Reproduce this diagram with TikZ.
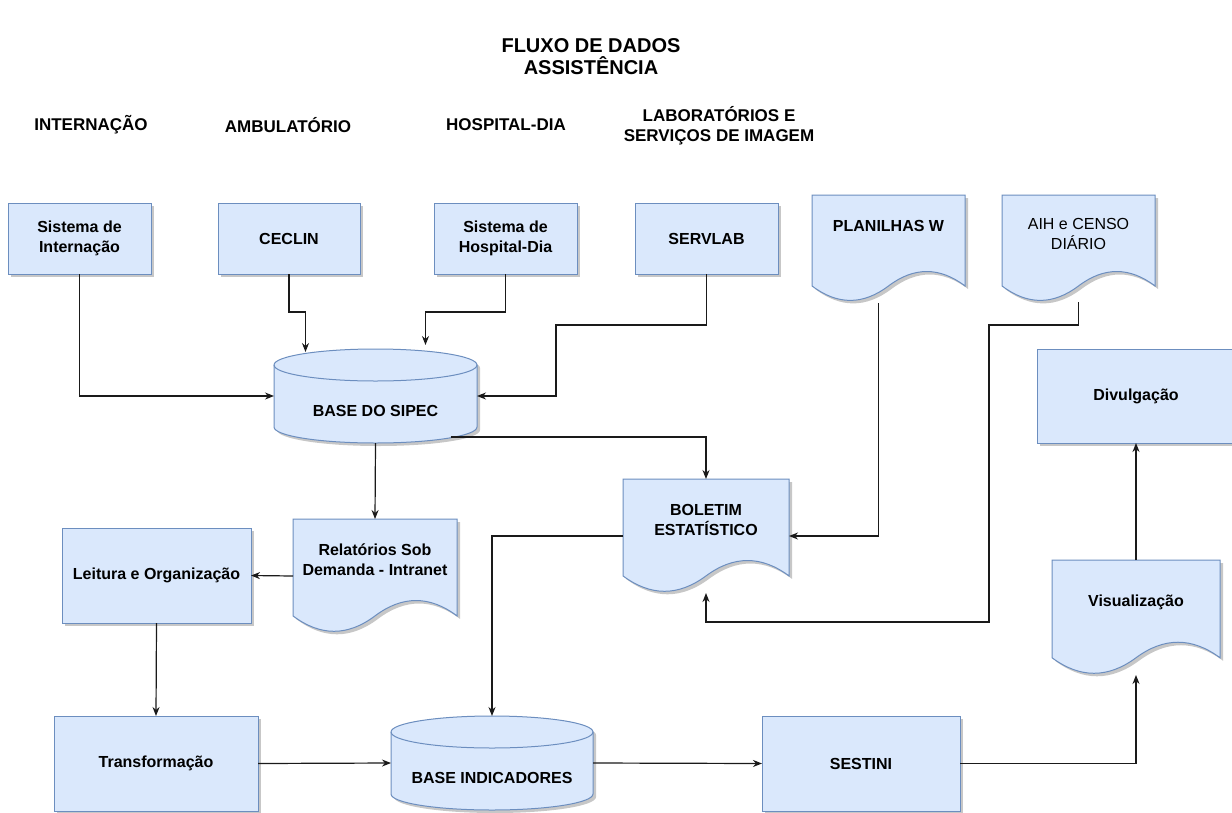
\documentclass[tikz,border=0pt]{standalone}
\usepackage{fontspec}
\setmainfont{Liberation Sans}
\usetikzlibrary{calc,arrows.meta,shadows}

\definecolor{boxfill}{HTML}{DAE8FC}
\definecolor{boxline}{HTML}{6C8EBF}
\definecolor{wire}{HTML}{1A1A1A}

\newcommand\bxfont{\bfseries\fontsize{16}{20}\selectfont}
\newcommand\plainfont{\fontsize{16}{20}\selectfont}
\newcommand\hdfont{\bfseries\fontsize{17}{20}\selectfont}
\newcommand\ttlfont{\bfseries\fontsize{20}{22}\selectfont}

% outline of a document symbol filling the rectangle of node #1
\newcommand\wavepath[1]{%
  let \p1=(#1.north west), \p2=(#1.south east),
      \n1={\x2-\x1}, \n2={0.3*(\y1-\y2)} in
  (\x1,\y1) -- (\x2,\y1) -- (\x2,{\y2+0.5*\n2})
  .. controls ({\x1+0.8333*\n1},{\y2+1.1*\n2}) and ({\x1+0.6667*\n1},{\y2+1.1*\n2}) .. ({\x1+0.5*\n1},{\y2+0.5*\n2})
  .. controls ({\x1+0.3333*\n1},{\y2-0.1*\n2}) and ({\x1+0.1667*\n1},{\y2-0.1*\n2}) .. (\x1,{\y2+0.5*\n2}) -- cycle}

% outline of a database drum filling the rectangle of node #1
\newcommand\drumpath[1]{%
  let \p1=(#1.north west), \p2=(#1.south east), \n1={(\x2-\x1)/2} in
  (\x1,\y1-16pt) -- (\x1,\y2+16pt)
  arc[start angle=180, end angle=360, x radius={\n1*1pt}, y radius=16pt]
  -- (\x2,\y1-16pt)
  arc[start angle=0, end angle=180, x radius={\n1*1pt}, y radius=16pt] -- cycle}
\newcommand\drumrim[1]{%
  let \p1=(#1.north west), \p2=(#1.south east), \n1={(\x2-\x1)/2} in
  (\x1,\y1-16pt) arc[start angle=180, end angle=360, x radius={\n1*1pt}, y radius=16pt]}

\tikzset{
  frame/.style={rectangle, inner sep=0pt, outer sep=0pt},
  procbox/.style={frame, draw=boxline, fill=boxfill, line width=1pt, align=center, font=\bxfont,
    drop shadow={shadow xshift=3pt, shadow yshift=-3pt, fill=black, opacity=0.22}},
  shapeline/.style={draw=boxline, fill=boxfill, line width=1pt},
  rimline/.style={draw=boxline, line width=1pt},
  shapeshade/.style={fill=black, opacity=0.22, transform canvas={shift={(3pt,-3pt)}}},
  labeltext/.style={align=center, font=\bxfont, inner sep=0pt},
  lighttext/.style={align=center, font=\plainfont, inner sep=0pt},
  headtext/.style={align=center, font=\hdfont, inner sep=0pt},
  titletext/.style={align=center, font=\ttlfont, inner sep=0pt},
  flow/.style={draw=wire, line width=1.2pt, -{Stealth[length=9pt,width=7pt]}},
}

\begin{document}
\begin{tikzpicture}[x=1pt,y=-1pt]
\fill[white] (0,0) rectangle (1232,812);
\useasboundingbox (0,0) rectangle (1232,812);

% title and column headings
\node[titletext] (title) at (591,57) {FLUXO DE DADOS\\ASSISTÊNCIA};
\node[headtext] (h1) at (91,125) {INTERNAÇÃO};
\node[headtext] (h2) at (288,125) {AMBULATÓRIO};
\node[headtext] (h3) at (506,125) {HOSPITAL-DIA};
\node[headtext] (h4) at (719,126) {LABORATÓRIOS E\\SERVIÇOS DE IMAGEM};

% source systems
\node[procbox, minimum width=143pt, minimum height=71pt] (intern) at (79.5,238.5) {Sistema de\\Internação};
\node[procbox, minimum width=142pt, minimum height=71pt] (ceclin) at (289,238.5) {CECLIN};
\node[procbox, minimum width=143pt, minimum height=71pt] (hdia) at (505.5,238.5) {Sistema de\\Hospital-Dia};
\node[procbox, minimum width=143pt, minimum height=71pt] (servlab) at (706.5,238.5) {SERVLAB};

% document symbols
\node[frame, minimum width=153pt, minimum height=107pt] (plan) at (888.5,248.5) {};
\node[frame, minimum width=153pt, minimum height=107pt] (aih) at (1078.5,248.5) {};
\node[frame, minimum width=164pt, minimum height=114pt] (relat) at (375,576) {};
\node[frame, minimum width=166pt, minimum height=114pt] (boletim) at (706,536) {};
\node[frame, minimum width=168pt, minimum height=115pt] (visual) at (1136,617.5) {};
\foreach \d in {plan,aih,relat,boletim,visual}{
  \path[shapeshade] \wavepath{\d};
  \path[shapeline] \wavepath{\d};
}
\node[labeltext] (plan-t) at ($(plan)+(0,-23)$) {PLANILHAS W};
\node[lighttext] (aih-t) at ($(aih)+(0,-15)$) {AIH e CENSO\\DIÁRIO};
\node[labeltext] (relat-t) at ($(relat)+(0,-16)$) {Relatórios Sob\\Demanda - Intranet};
\node[labeltext] (boletim-t) at ($(boletim)+(0,-16)$) {BOLETIM\\ESTATÍSTICO};
\node[labeltext] (visual-t) at ($(visual)+(0,-15)$) {Visualização};

% databases
\node[frame, minimum width=203pt, minimum height=94pt] (sipec) at (375.5,396) {};
\node[frame, minimum width=202pt, minimum height=94pt] (bind) at (492,763) {};
\foreach \d in {sipec,bind}{
  \path[shapeshade] \drumpath{\d};
  \path[shapeline] \drumpath{\d};
  \draw[rimline] \drumrim{\d};
}
\node[labeltext] (sipec-t) at ($(sipec)+(0,15)$) {BASE DO SIPEC};
\node[labeltext] (bind-t) at ($(bind)+(0,15)$) {BASE INDICADORES};

% processing steps
\node[procbox, minimum width=198pt, minimum height=94pt] (divulg) at (1136,396) {Divulgação};
\node[procbox, minimum width=189pt, minimum height=95pt] (leitura) at (156.5,575.5) {Leitura e Organização};
\node[procbox, minimum width=204pt, minimum height=95pt] (transf) at (156,763.5) {Transformação};
\node[procbox, minimum width=198pt, minimum height=95pt] (sestini) at (861,763.5) {SESTINI};

% data flow
\draw[flow] (intern.south) |- (sipec.west);
\draw[flow] (ceclin.south) -- ++(0,38) -| ($(sipec.north)+(-70,3)$);
\draw[flow] (hdia.south) -- ++(0,38) -| ($(sipec.north)+(50,-4)$);
\draw[flow] (servlab.south) -- ++(0,51) -| ($(sipec.east)+(79,0)$) -- (sipec.east);
\draw[flow] (sipec.south) -- (relat.north);
\draw[flow] ($(sipec.south)+(75,-6)$) -| (boletim.north);
\draw[flow] (relat.west) -- (leitura.east);
\draw[flow] (leitura.south) -- (transf.north);
\draw[flow] ($(plan.south)+(-10,1)$) |- (boletim.east);
\draw[flow] (aih.south) -- ++(0,23) -| ($(boletim.south)+(283,29)$) -| (boletim.south);
\draw[flow] (boletim.west) -| (bind.north);
\draw[flow] (transf.east) -- (bind.west);
\draw[flow] (bind.east) -- (sestini.west);
\draw[flow] (sestini.east) -| (visual.south);
\draw[flow] (visual.north) -- (divulg.south);
\end{tikzpicture}
\end{document}
